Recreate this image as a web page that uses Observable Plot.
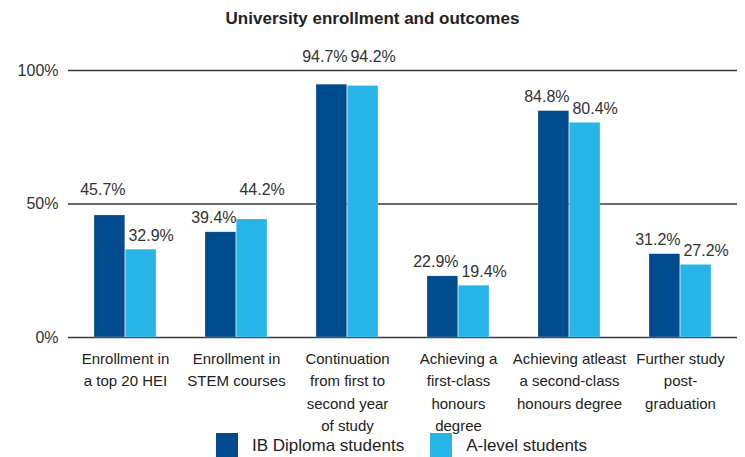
<!DOCTYPE html>
<html>
<head>
<meta charset="utf-8">
<script src="https://cdn.jsdelivr.net/npm/d3@7"></script>
<script src="https://cdn.jsdelivr.net/npm/@observablehq/plot@0.6"></script>
<style>
  body { margin: 0; background: #fff; font-family: "Liberation Sans", Arial, sans-serif; }
  #wrap { position: relative; width: 745px; height: 457px; overflow: hidden; }
  #title { position: absolute; top: 9px; left: 0; width: 745px; text-align: center; font-weight: bold; font-size: 17px; color: #222; }
  #chart { position: absolute; top: 0; left: 0; }
  #legend { position: absolute; top: 433px; left: 216px; display: flex; align-items: center; font-size: 17px; color: #222; }
  .sw { width: 22px; height: 26px; display: inline-block; margin-right: 14px; }
  .item { display: flex; align-items: center; margin-right: 26px; }
</style>
</head>
<body>
<div id="wrap">
  <div id="chart"></div>
  <div id="title"></div>
  <div id="legend"></div>
</div>
<script>
const title = "University enrollment and outcomes";
const categories = [
  "Enrollment in\na top 20 HEI",
  "Enrollment in\nSTEM courses",
  "Continuation\nfrom first to\nsecond year\nof study",
  "Achieving a\nfirst-class\nhonours\ndegree",
  "Achieving atleast\na second-class\nhonours degree",
  "Further study\npost-\ngraduation"
];
const seriesNames = ["IB Diploma students", "A-level students"];
const ibValues = [45.7, 39.4, 94.7, 22.9, 84.8, 31.2];
const aLevelValues = [32.9, 44.2, 94.2, 19.4, 80.4, 27.2];
const yTicks = [0, 50, 100];
const colors = ["#004b8d", "#27b5e8"];

const rows = [];
categories.forEach((c, i) => {
  rows.push({cat: c, series: seriesNames[0], value: ibValues[i], idx: 0});
  rows.push({cat: c, series: seriesNames[1], value: aLevelValues[i], idx: 1});
});

const W = 745, H = 457, mL = 68, mR = 8;
const pIn = 0.44;
const step = (W - mL - mR) / categories.length;
const bw = step * (1 - pIn);
const half = bw / 2;

// label placement: lift labels that would collide with a gridline above it
const labelY = v => {
  for (const t of yTicks) if (v < t && v > t - 9) return t;
  return v;
};

const plot = Plot.plot({
  width: W,
  height: H,
  marginLeft: mL,
  marginRight: mR,
  marginTop: 70,
  marginBottom: 120,
  style: {fontFamily: "Liberation Sans, Arial, sans-serif", color: "#333", background: "transparent"},
  x: {domain: categories, paddingInner: pIn, paddingOuter: pIn / 2, axis: null},
  y: {domain: [0, 100], ticks: yTicks, tickSize: 0, tickPadding: 10, tickFormat: d => d + "%", label: null},
  color: {domain: seriesNames, range: colors},
  marks: [
    Plot.ruleY(yTicks, {stroke: "#3a3a3a", strokeWidth: 1.5}),
    Plot.barY(rows.filter(d => d.idx === 0), {x: "cat", y: "value", fill: "series", insetRight: half, stroke: "#ffffff", strokeOpacity: 0.4, strokeWidth: 0.6}),
    Plot.barY(rows.filter(d => d.idx === 1), {x: "cat", y: "value", fill: "series", insetLeft: half, stroke: "#ffffff", strokeOpacity: 0.4, strokeWidth: 0.6}),
    Plot.text(rows.filter(d => d.idx === 0), {x: "cat", y: d => labelY(d.value), text: d => d.value.toFixed(1) + "%", dx: -half / 2 - 7, dy: -14, fontSize: 16, fill: "#333"}),
    Plot.text(rows.filter(d => d.idx === 1), {x: "cat", y: d => labelY(d.value), text: d => d.value.toFixed(1) + "%", dx: half / 2 + 10, dy: -14, fontSize: 16, fill: "#333"}),
    Plot.text(categories, {x: d => d, y: () => 0, text: d => d, lineAnchor: "top", dy: 11, lineHeight: 1.48, fontSize: 15, fill: "#222"})
  ]
});
plot.querySelectorAll("g[aria-label='y-axis tick label']").forEach(e => e.setAttribute("font-size", 16));
document.getElementById("chart").appendChild(plot);
document.getElementById("title").textContent = title;

const leg = document.getElementById("legend");
seriesNames.forEach((s, i) => {
  const it = document.createElement("div");
  it.className = "item";
  const sw = document.createElement("span");
  sw.className = "sw";
  sw.style.background = colors[i];
  it.appendChild(sw);
  it.appendChild(document.createTextNode(s));
  leg.appendChild(it);
});
</script>
</body>
</html>
